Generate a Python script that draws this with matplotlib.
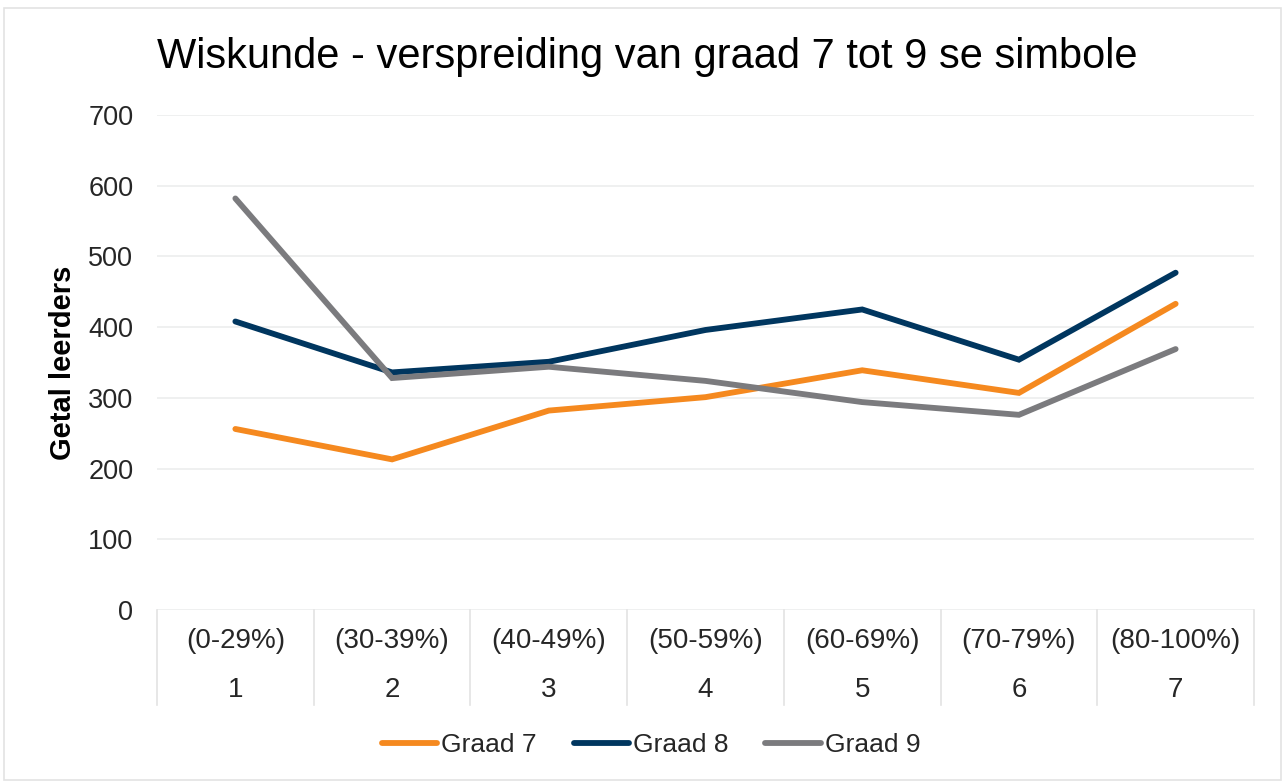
import matplotlib
matplotlib.use("Agg")
import matplotlib.pyplot as plt
import matplotlib.transforms as mtransforms
from matplotlib.patches import Rectangle

plt.rcParams['font.family'] = ['Liberation Sans', 'DejaVu Sans']

categories = ["(0-29%)", "(30-39%)", "(40-49%)", "(50-59%)", "(60-69%)", "(70-79%)", "(80-100%)"]
codes = ["1", "2", "3", "4", "5", "6", "7"]
graad7 = [256, 213, 282, 301, 339, 307, 433]
graad8 = [408, 336, 351, 396, 425, 354, 477]
graad9 = [582, 328, 344, 324, 294, 276, 369]
series_names = ["Graad 7", "Graad 8", "Graad 9"]
colors = ["#F5891F", "#00365F", "#7B7B7E"]
yticks = [0, 100, 200, 300, 400, 500, 600, 700]

W, H = 1285, 784
fig = plt.figure(figsize=(W / 100, H / 100), dpi=100)
fig.patch.set_facecolor("white")

# outer border
fig.patches.append(Rectangle((4 / W, 4 / H), 1 - 8 / W, 1 - 12 / H, transform=fig.transFigure,
                             fill=False, edgecolor="#E3E3E3", linewidth=1.2))

left, right, top, bottom = 157, 1254, 115, 610
ax = fig.add_axes([left / W, 1 - bottom / H, (right - left) / W, (bottom - top) / H])

x = list(range(len(categories)))
for vals, name, c in zip([graad7, graad8, graad9], series_names, colors):
    ax.plot(x, vals, color=c, linewidth=4.2, label=name, solid_capstyle="round", solid_joinstyle="miter", zorder=3)

ax.set_xlim(-0.5, len(categories) - 0.5)
ax.set_ylim(0, 700)
ax.set_yticks(yticks)
ax.set_yticklabels([str(v) for v in yticks], fontsize=19.5, color="#262626")
ax.tick_params(axis="y", length=0, pad=17)
ax.set_xticks([])
ax.grid(axis="y", color="#ECEEEE", linewidth=1.2, zorder=0)
for s in ax.spines.values():
    s.set_visible(False)

trans = mtransforms.blended_transform_factory(ax.transData, ax.transAxes)
sep_depth = 95 / (bottom - top)
for b in [i - 0.5 for i in range(len(categories) + 1)]:
    ax.plot([b, b], [0, -sep_depth], transform=trans, color="#E3E3E3", linewidth=1.2, clip_on=False)
for xi, cat, code in zip(x, categories, codes):
    ax.text(xi, -31 / (bottom - top), cat, transform=trans, ha="center", va="center",
            fontsize=20, color="#262626")
    ax.text(xi, -80 / (bottom - top), code, transform=trans, ha="center", va="center",
            fontsize=20, color="#262626")

fig.text(157 / W, 1 - 57 / H, "Wiskunde - verspreiding van graad 7 tot 9 se simbole",
         fontsize=30, color="#000000", ha="left", va="center")
fig.text(63 / W, 1 - 363 / H, "Getal leerders", rotation=90, fontsize=21, fontweight="bold",
         color="#000000", ha="center", va="center")

fig.legend(loc="center", bbox_to_anchor=(651 / W, 1 - 745 / H), ncol=3, frameon=False,
           fontsize=19, handlelength=2.1, handletextpad=0.15, columnspacing=1.4,
           labelcolor="#262626")

fig.savefig("out.png", dpi=100, facecolor="white")
